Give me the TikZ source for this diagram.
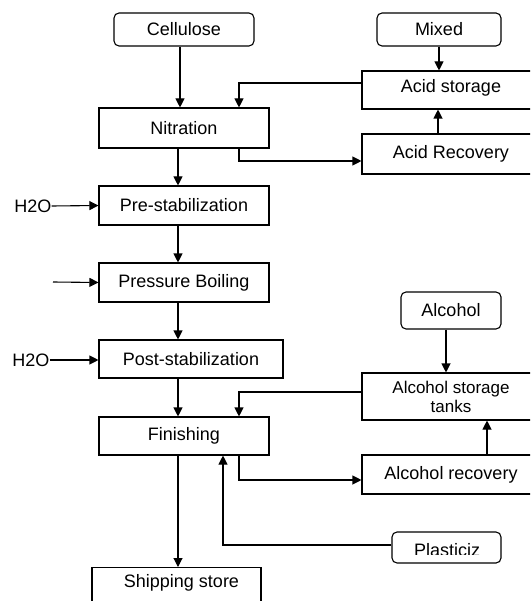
\documentclass[tikz,border=0pt]{standalone}
\usepackage{fontspec}
\setmainfont{Liberation Sans}
\usetikzlibrary{arrows.meta}
\begin{document}
\begin{tikzpicture}[x=1pt,y=-1pt,
  every node/.style={font=\fontsize{18}{19}\selectfont},
  box/.style={draw,line width=1.1pt,rectangle,inner sep=0pt,align=center},
  rbox/.style={box,rounded corners=5pt},
  arr/.style={line width=1.1pt,-{Triangle[length=9pt,width=9pt]}},
  lbl/.style={inner sep=0pt}]
\useasboundingbox (0,0) rectangle (530,601);
\clip (0,0) rectangle (530,601);
% boxes
\node[rbox,minimum width=140pt,minimum height=33pt] (cell) at (184,29.5) {Cellulose};
\node[rbox,minimum width=124pt,minimum height=33pt] (mixed) at (439,29.5) {Mixed};
\node[box,minimum width=178pt,minimum height=38pt] (acidst) at (451,90) {};
\node[lbl] (acidsttxt) at (451,88) {Acid storage};
\node[box,minimum width=178pt,minimum height=40pt] (acidrec) at (451,154) {Acid Recovery};
\node[box,minimum width=170pt,minimum height=40pt] (nitr) at (184,128) {Nitration};
\node[box,minimum width=170pt,minimum height=39pt] (pre) at (184,205.5) {Pre-stabilization};
\node[box,minimum width=170pt,minimum height=39pt] (press) at (184,282.5) {Pressure Boiling};
\node[box,minimum width=184pt,minimum height=38pt] (post) at (191,359) {Post-stabilization};
\node[rbox,minimum width=100pt,minimum height=37pt] (alc) at (451,310.5) {Alcohol};
\node[box,minimum width=178pt,minimum height=47pt,font=\fontsize{17}{19}\selectfont] (alcst) at (451,396.5) {Alcohol storage\\tanks};
\node[box,minimum width=170pt,minimum height=38pt] (fin) at (184,436) {Finishing};
\node[box,minimum width=178pt,minimum height=39pt] (alcrec) at (451,474.5) {Alcohol recovery};
\node[rbox,minimum width=109pt,minimum height=31pt] (plast) at (446.5,547.5) {};
\begin{scope}
\clip (392,532) rectangle (501,554.5);
\node[lbl] (plasttxt) at (447,550) {Plasticiz};
\end{scope}
\node[box,minimum width=169pt,minimum height=46pt,anchor=north] (ship) at (176.5,567) {};
\node[lbl] (shiptxt) at (181.5,583) {Shipping store};
\node[lbl] (h2oa) at (33,206) {H2O};
\node[lbl] (h2ob) at (31,360) {H2O};
\coordinate (pbin) at (53,282);
% connectors
\draw[arr] ([xshift=-4pt]cell.south) -- ([xshift=-4pt]nitr.north);
\draw[arr] (mixed.south) -- (mixed.south |- acidst.north);
\draw[arr] ([yshift=7pt]acidst.west) -| ([xshift=55pt]nitr.north);
\draw[arr] ([xshift=-13pt]acidrec.north) -- ([xshift=-13pt]acidst.south);
\draw[arr] ([xshift=55pt]nitr.south) |- ([yshift=-7pt]acidrec.west);
\draw[arr] ([xshift=-6pt]nitr.south) -- ([xshift=-6pt]pre.north);
\draw[arr] (h2oa.east) -- (pre.west);
\draw[arr] ([xshift=-6pt]pre.south) -- ([xshift=-6pt]press.north);
\draw[arr] (pbin) -- (press.west);
\draw[arr] ([xshift=-6pt]press.south) -- ([xshift=-6pt]press.south |- post.north);
\draw[arr] (h2ob.east) -- (h2ob.east -| post.west);
\draw[arr] ([xshift=-6pt]fin.north |- post.south) -- ([xshift=-6pt]fin.north);
\draw[arr] ([xshift=-5pt]alc.south) -- ([xshift=-5pt]alcst.north);
\draw[arr] ([yshift=4.5pt]alcst.west) -| ([xshift=55pt]fin.north);
\draw[arr] ([xshift=-6pt]fin.south) -- ([xshift=-6pt]fin.south |- ship.north);
\draw[arr] ([xshift=55pt]fin.south) |- ([yshift=-5.5pt]alcrec.west);
\draw[arr] ([xshift=36pt]alcrec.north) -- ([xshift=36pt]alcst.south);
\draw[arr] ([yshift=2.5pt]plast.west) -| ([xshift=39pt]fin.south);
\end{tikzpicture}
\end{document}
